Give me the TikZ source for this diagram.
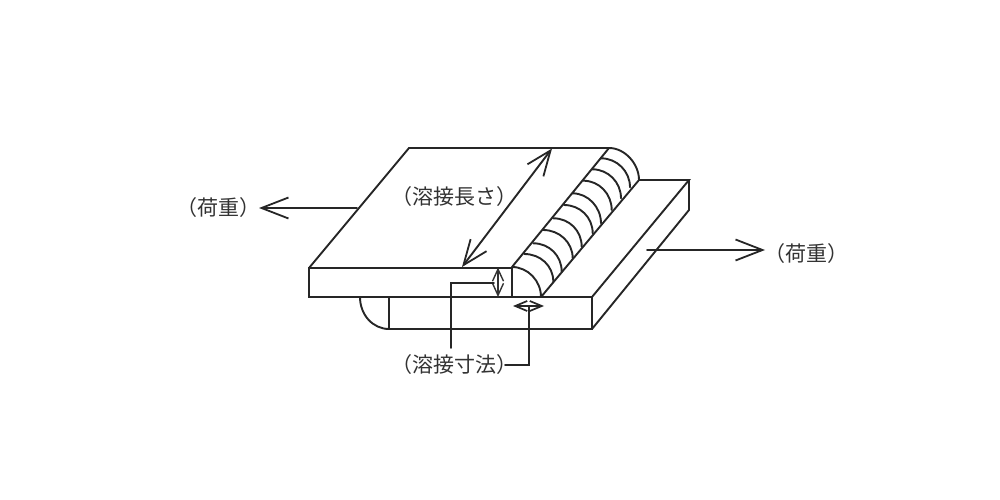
\documentclass[tikz,border=0pt]{standalone}
\usepackage{fontspec}
\newfontfamily\cjk{Noto Sans CJK JP}
\usetikzlibrary{arrows.meta}
\tikzset{
  ln/.style={line width=1.9pt,draw=black!85,line cap=round,line join=miter},
  bigarrow/.style={ln,-{Straight Barb[length=27pt,width=21pt,line width=1.8pt]}},
  longdim/.style={ln,{Straight Barb[length=25pt,width=20pt,line width=1.8pt]}-{Straight Barb[length=25pt,width=20pt,line width=1.8pt]}},
  vdim/.style={line width=1.5pt,draw=black!80,{Straight Barb[length=12pt,width=11pt,line width=1.4pt]}-{Straight Barb[length=12pt,width=11pt,line width=1.4pt]}},
  hdim/.style={line width=1.7pt,draw=black!85,{Straight Barb[length=12pt,width=10pt,line width=1.7pt]}-{Straight Barb[length=12pt,width=10pt,line width=1.7pt]}},
  lab/.style={inner sep=0pt,font=\cjk\fontsize{21}{21}\selectfont,text=black!80}
}
\begin{document}
\begin{tikzpicture}[x=1pt,y=-1pt]
\useasboundingbox (0,0) rectangle (1000,500);
% top plate
\draw[ln] (309,268) -- (409,148) -- (609,148);
\draw[ln] (309,268) rectangle (512,297);
% lower plate
\draw[ln] (389,297) rectangle (592,329);
\draw[ln,line width=2.6pt] (389,297) -- (512,297);
\draw[ln] (512,297) -- (592,297) -- (689,180) -- (639,180);
\draw[ln] (689,180) -- (689,210) -- (592,329);
% weld
\draw[ln] (512,267) -- (609,148);
\draw[ln] (541,297) -- (639,180);
\draw[ln] (512,267) .. controls (528,267) and (541,281) .. (541,297);
\draw[ln] (609,148) .. controls (625,148) and (639,164) .. (639,180);
\foreach \xa/\ya/\xb/\yb in {
 524.3/254/553.3/281.7,
 533.3/243.3/561.7/271.7,
 543.3/230/572.7/258.3,
 553.3/218.3/581.7/246.7,
 564/205/592.7/233.3,
 572.3/193.3/601/223.3,
 583.3/180.7/611.7/210,
 592.3/169.3/621/198.3,
 601/158.3/630/187.3}{
  \draw[ln] (\xa,\ya) .. controls (\xa+16,\ya) and (\xb,\yb-16) .. (\xb,\yb);
}
% bottom weld
\draw[ln] (360,297) .. controls (360,315) and (373,329) .. (389,329);
% labels
\node[lab] (lenlab) at (454,197) {（溶接長さ）};
\node[lab] (dimlab) at (454,365) {（溶接寸法）};
\node[lab] (loadl) at (218,208) {（荷重）};
\node[lab] (loadr) at (806,254) {（荷重）};
% coordinates
\coordinate (ll0) at (357,208);
\coordinate (ll1) at (259,208);
\coordinate (lr0) at (647,250);
\coordinate (lr1) at (765,250);
\coordinate (d0) at (462,267);
\coordinate (d1) at (552,148.5);
\coordinate (v0) at (498,267.5);
\coordinate (v1) at (498,297);
\coordinate (h0) at (513,306);
\coordinate (h1) at (544,306);
\coordinate (a1) at (451,348);
\coordinate (a2) at (451,283);
\coordinate (a3) at (494,283);
\coordinate (b1) at (505,365);
\coordinate (b2) at (529,365);
\coordinate (b3) at (529,306);
% arrows
\draw[bigarrow] (ll0) -- (ll1);
\draw[bigarrow] (lr0) -- (lr1);
\draw[longdim] (d0) -- (d1);
\draw[vdim] (v0) -- (v1);
\draw[hdim] (h0) -- (h1);
\draw[ln] (a1) -- (a2) -- (a3);
\draw[ln] (b1) -- (b2) -- (b3);
\end{tikzpicture}
\end{document}
